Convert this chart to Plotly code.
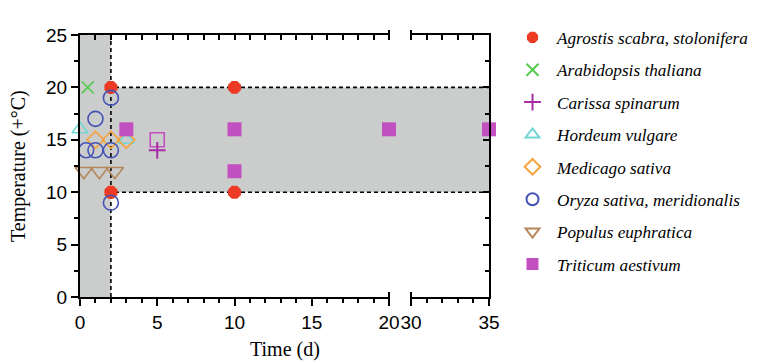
import plotly.graph_objects as go

# ---------------- data ----------------
agrostis_x = [2, 2, 10, 10]
agrostis_y = [20, 10, 20, 10]
arabidopsis_x = [0.5]
arabidopsis_y = [20]
carissa_x = [5]
carissa_y = [14]
hordeum_x = [0, 3]
hordeum_y = [16, 15]
medicago_x = [1, 2, 3]
medicago_y = [15, 15, 15]
oryza_x = [0.4, 1, 2, 1, 2, 2]
oryza_y = [14, 14, 14, 17, 19, 9]
populus_x = [0.25, 1.25, 2.25]
populus_y = [12, 12, 12]
triticum_x = [3, 10, 10, 20]
triticum_y = [16, 16, 12, 16]
triticum_late_x = [35]
triticum_late_y = [16]
triticum_open_x = [5]
triticum_open_y = [15]

temp_band = [10, 20]        # shaded temperature band (°C)
time_limit = 2              # shaded early time window (d)
x_range_1 = [0, 20]
x_range_2 = [30, 35]
y_range = [0, 25]
x_ticks_1 = [0, 5, 10, 15, 20]
x_ticks_2 = [30, 35]
y_ticks = [0, 5, 10, 15, 20, 25]

# ---------------- layout constants ----------------
# page body has an 8px default margin, so the figure is 8px smaller than the window
W, H = 763, 355
ML, MR, MT, MB = 72, 282, 15, 66
PW = W - ML - MR
PH = H - MT - MB
D1 = 309 / PW
D2 = 331 / PW

serif = "Liberation Serif, Times New Roman, serif"
sans = "Liberation Sans, Arial, sans-serif"

fig = go.Figure()

def add(name, x, y, symbol, color, size, xa="x", ya="y", showlegend=True, lw=1.6, group=None):
    fig.add_trace(go.Scatter(
        x=x, y=y, mode="markers", name=name,
        xaxis=xa, yaxis=ya,
        legendgroup=group or name, showlegend=showlegend,
        cliponaxis=False,
        marker=dict(symbol=symbol, size=size, color=color,
                    line=dict(color=color, width=lw)),
    ))

C_AGR = "#ED3A25"
C_ARA = "#55CC4F"
C_CAR = "#A72CA5"
C_HOR = "#72D8D6"
C_MED = "#F7A23A"
C_ORY = "#4453B5"
C_POP = "#B3875A"
C_TRI = "#C350C0"

add("Agrostis scabra, stolonifera", agrostis_x, agrostis_y, "octagon", C_AGR, 14, lw=0)
add("Arabidopsis thaliana", arabidopsis_x, arabidopsis_y, "x-thin-open", C_ARA, 12)
add("Triticum open", triticum_open_x, triticum_open_y, "square-open", C_TRI, 14, showlegend=False, group="Triticum aestivum")
add("Carissa spinarum", carissa_x, carissa_y, "cross-thin-open", C_CAR, 12, lw=2)
add("Hordeum vulgare", hordeum_x, hordeum_y, "triangle-up-open", C_HOR, 14)
add("Medicago sativa", medicago_x, medicago_y, "diamond-open", C_MED, 13)
add("Oryza sativa, meridionalis", oryza_x, oryza_y, "circle-open", C_ORY, 15)
add("Populus euphratica", populus_x, populus_y, "triangle-down-open", C_POP, 15)
add("Triticum aestivum", triticum_x, triticum_y, "square", C_TRI, 14, lw=0)
add("Triticum aestivum", triticum_late_x, triticum_late_y, "square", C_TRI, 14,
    xa="x2", ya="y2", showlegend=False, lw=0)

# empty traces so that the top (frame) axes get drawn
for xa, ya in (("x3", "y"), ("x4", "y2")):
    fig.add_trace(go.Scatter(x=[], y=[], xaxis=xa, yaxis=ya, showlegend=False, hoverinfo="skip"))

GRAY = "#CBCCCC"
DASH = dict(color="black", width=1.6, dash="4px,3px")
shapes = [
    dict(type="rect", xref="paper", yref="y", x0=0, x1=1, y0=temp_band[0], y1=temp_band[1],
         fillcolor=GRAY, line=dict(width=0), layer="below"),
    dict(type="rect", xref="x", yref="y", x0=0, x1=time_limit, y0=y_range[0], y1=y_range[1],
         fillcolor=GRAY, line=dict(width=0), layer="below"),
    dict(type="line", xref="paper", yref="y", x0=0, x1=1, y0=temp_band[0], y1=temp_band[0],
         line=DASH, layer="below"),
    dict(type="line", xref="paper", yref="y", x0=0, x1=1, y0=temp_band[1], y1=temp_band[1],
         line=DASH, layer="below"),
    dict(type="line", xref="x", yref="y", x0=time_limit, x1=time_limit, y0=y_range[0], y1=y_range[1],
         line=DASH, layer="below"),
]
# break caps
for xc in (D1, D2):
    for yc in (0, 1):
        shapes.append(dict(type="line", xref="paper", yref="paper", ysizemode="pixel", yanchor=yc,
                           x0=xc, x1=xc, y0=-5, y1=5, line=dict(color="black", width=2)))

tickfont = dict(family=sans, size=19, color="black")
common_x = dict(showline=True, linecolor="black", linewidth=2, showgrid=False, zeroline=False,
                ticks="outside", ticklen=7, tickwidth=2, tickcolor="black", tickfont=tickfont)
top_x = dict(side="top", showticklabels=False,
             showline=True, linecolor="black", linewidth=2, showgrid=False, zeroline=False,
             ticks="inside", dtick=1, ticklen=5, tickwidth=1.5, tickcolor="black")

fig.update_layout(
    width=W, height=H,
    margin=dict(l=ML, r=MR, t=MT, b=MB),
    paper_bgcolor="white", plot_bgcolor="white",
    shapes=shapes,
    xaxis=dict(domain=[0, D1], range=x_range_1, anchor="y", tickmode="array", tickvals=x_ticks_1,
               minor=dict(dtick=1, ticklen=4, ticks="outside", tickwidth=1.5, tickcolor="black"),
               **common_x),
    xaxis2=dict(domain=[D2, 1], range=x_range_2, anchor="y2", tickmode="array", tickvals=x_ticks_2,
                minor=dict(dtick=1, ticklen=4, ticks="outside", tickwidth=1.5, tickcolor="black"),
                **common_x),
    xaxis3=dict(overlaying="x", anchor="y", range=x_range_1, **top_x),
    xaxis4=dict(overlaying="x2", anchor="y2", range=x_range_2, **top_x),
    yaxis=dict(domain=[0, 1], range=y_range, anchor="x", tickmode="array", tickvals=y_ticks,
               showline=True, linecolor="black", linewidth=2, showgrid=False, zeroline=False,
               ticks="outside", ticklen=7, tickwidth=2, tickcolor="black", tickfont=tickfont,
               minor=dict(dtick=2.5, ticklen=4, ticks="outside", tickwidth=1.5, tickcolor="black")),
    yaxis2=dict(domain=[0, 1], range=y_range, anchor="x2", side="right", showticklabels=False,
                showline=True, linecolor="black", linewidth=2, showgrid=False, zeroline=False,
                ticks="inside", dtick=5, ticklen=6, tickwidth=1.5, tickcolor="black",
                minor=dict(dtick=2.5, ticklen=4, ticks="inside", tickwidth=1.5, tickcolor="black")),
    legend=dict(x=(746 - ML) / PW, xanchor="right", y=1.0 + 16 / PH, yanchor="top",
                font=dict(family=serif, size=17.2, color="black", style="italic"),
                tracegroupgap=7, itemwidth=39, bgcolor="rgba(0,0,0,0)", itemsizing="constant",
                maxheight=350),
    showlegend=True,
    annotations=[
        dict(text="Time (d)", xref="paper", yref="paper", x=0.5, y=-(344 - (H - MB)) / PH,
             yanchor="middle", xanchor="center", showarrow=False,
             font=dict(family=serif, size=20, color="black")),
        dict(text="Temperature (+°C)", xref="paper", yref="paper", x=-(ML - 10) / PW, xanchor="center",
             y=0.5, yanchor="middle", textangle=-90, showarrow=False,
             font=dict(family=serif, size=20, color="black")),
    ],
)

fig.write_html("out.html")
